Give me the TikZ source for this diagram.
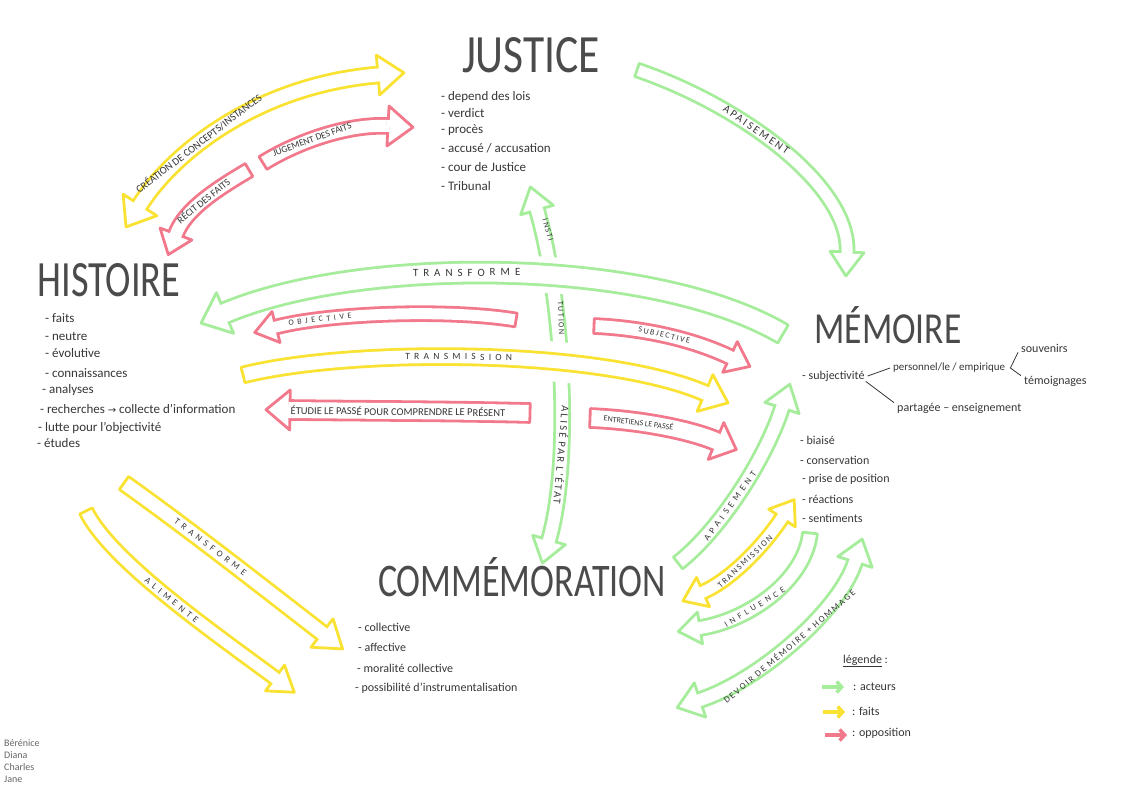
\documentclass[tikz,border=0pt]{standalone}
\usepackage{fontspec}
\usepackage{graphicx}
\setmainfont{Carlito}
\newfontfamily\symf{DejaVu Sans}
\newfontfamily\labA{Carlito}
\newfontfamily\labS{Carlito}[LetterSpace=20]
\newfontfamily\labW{Carlito}[LetterSpace=45]
\usetikzlibrary{calc,arrows.meta}
\definecolor{gA}{RGB}{165,236,155}
\definecolor{yA}{RGB}{250,226,50}
\definecolor{rA}{RGB}{242,120,140}
\definecolor{ink}{RGB}{55,55,55}
\definecolor{ttl}{RGB}{75,75,75}
\tikzset{
  body/.style={anchor=west, inner sep=0pt, text=ink, font=\fontsize{12}{14}\selectfont},
  bodyL/.style={anchor=west, inner sep=0pt, text=ink, font=\fontsize{13}{15}\selectfont},
  ttlnode/.style={inner sep=0pt, text=ttl},
  labN/.style={inner sep=0pt, text=ink, font=\labA\fontsize{#1}{#1}\selectfont},
  labS/.style={inner sep=0pt, text=ink, font=\labS\fontsize{#1}{#1}\selectfont},
  labW/.style={inner sep=0pt, text=ink, font=\labW\fontsize{#1}{#1}\selectfont},
  treeline/.style={draw=ink, line width=0.8pt},
}
% #1 colour, #2 inner gap, #3 head half width, #4 head length, #5 start, #6 ctrl1, #7 ctrl2, #8 end, #9 number of heads
\newcommand{\blockarrow}[9]{%
  \pgfmathsetmacro{\bhin}{#2/2}%
  \pgfmathsetmacro{\bhout}{#2/2+1.4}%
  \draw[#1, line width=2.8pt, double=white, double distance=#2pt]
     (#5) .. controls (#6) and (#7) .. (#8);
  \draw[#1, line width=2.8pt, fill=white, line join=round]
     ($(#8)!#3pt!90:(#7)$) -- ($(#8)!-#4pt!(#7)$) -- ($(#8)!#3pt!-90:(#7)$) -- cycle;
  \draw[white, line width=3.6pt]
     ($(#8)!\bhin pt!90:(#7)$) -- ($(#8)!\bhin pt!-90:(#7)$);
  \ifnum#9=2
    \draw[#1, line width=2.8pt, fill=white, line join=round]
       ($(#5)!#3pt!90:(#6)$) -- ($(#5)!-#4pt!(#6)$) -- ($(#5)!#3pt!-90:(#6)$) -- cycle;
    \draw[white, line width=3.6pt]
       ($(#5)!\bhin pt!90:(#6)$) -- ($(#5)!\bhin pt!-90:(#6)$);
  \else
    \draw[#1, line width=2.8pt, line cap=round]
       ($(#5)!\bhout pt!90:(#6)$) -- ($(#5)!\bhout pt!-90:(#6)$);
  \fi
}
\begin{document}
\begin{tikzpicture}[x=1pt, y=-1pt]
\useasboundingbox (0,0) rectangle (1140,800);
\fill[white] (0,0) rectangle (1140,800);

% ---------- arrow coordinates ----------
\coordinate (a1s) at (140,205); \coordinate (a1c) at (175,150); \coordinate (a1d) at (260,85);  \coordinate (a1e) at (378,75);
\coordinate (a2s) at (249,170); \coordinate (a2c) at (215,190); \coordinate (a2d) at (185,210); \coordinate (a2e) at (176,234);
\coordinate (a3s) at (263,163); \coordinate (a3c) at (300,140); \coordinate (a3d) at (350,124); \coordinate (a3e) at (388,126);
\coordinate (a4s) at (637,70);  \coordinate (a4c) at (740,105); \coordinate (a4d) at (850,185); \coordinate (a4e) at (847,252);
\coordinate (a5s) at (537,210); \coordinate (a5c) at (563,300); \coordinate (a5d) at (572,460); \coordinate (a5e) at (549,540);
\coordinate (a6s) at (783,334); \coordinate (a6c) at (650,256); \coordinate (a6d) at (360,256); \coordinate (a6e) at (225,313);
\coordinate (a7s) at (516,320); \coordinate (a7c) at (450,309); \coordinate (a7d) at (330,313); \coordinate (a7e) at (276,327);
\coordinate (a8s) at (594,326); \coordinate (a8c) at (640,328); \coordinate (a8d) at (690,338); \coordinate (a8e) at (730,357);
\coordinate (a9s) at (243,375); \coordinate (a9c) at (350,348); \coordinate (a9d) at (600,348); \coordinate (a9e) at (705,393);
\coordinate (b1s) at (530,413); \coordinate (b1c) at (450,411); \coordinate (b1d) at (370,411); \coordinate (b1e) at (290,410);
\coordinate (b2s) at (590,418); \coordinate (b2c) at (640,420); \coordinate (b2d) at (690,430); \coordinate (b2e) at (716,441);
\coordinate (b3s) at (678,563); \coordinate (b3c) at (720,530); \coordinate (b3d) at (765,460); \coordinate (b3e) at (782,408);
\coordinate (b4s) at (703,592); \coordinate (b4c) at (730,580); \coordinate (b4d) at (762,548); \coordinate (b4e) at (782,518);
\coordinate (b5s) at (810,533); \coordinate (b5c) at (805,580); \coordinate (b5d) at (750,620); \coordinate (b5e) at (700,628);
\coordinate (b6s) at (700,700); \coordinate (b6c) at (760,680); \coordinate (b6d) at (840,610); \coordinate (b6e) at (855,562);
\coordinate (b7s) at (124,483); \coordinate (b7c) at (190,530); \coordinate (b7d) at (260,585); \coordinate (b7e) at (322,633);
\coordinate (b8s) at (86,511);  \coordinate (b8c) at (110,560); \coordinate (b8d) at (210,630); \coordinate (b8e) at (275,678);

% ---------- arrows ----------
\blockarrow{yA}{13}{20}{26}{a1s}{a1c}{a1d}{a1e}{2}
\path (a1s) .. controls (a1c) and (a1d) .. (a1e) node[labN=10.5, pos=.37, sloped] {CRÉATION DE CONCEPTS/INSTANCES};

\blockarrow{rA}{12}{17}{22}{a2s}{a2c}{a2d}{a2e}{1}
\path (a2s) .. controls (a2c) and (a2d) .. (a2e) node[labN=10, pos=.5, sloped] {RÉCIT DES FAITS};
\blockarrow{rA}{12}{20}{25}{a3s}{a3c}{a3d}{a3e}{1}
\path (a3s) .. controls (a3c) and (a3d) .. (a3e) node[labN=9.5, pos=.4, sloped] {JUGEMENT DES FAITS};

\blockarrow{gA}{11}{17}{24}{a4s}{a4c}{a4d}{a4e}{1}
\path (a4s) .. controls (a4c) and (a4d) .. (a4e) node[labS=11, pos=.4, sloped] {APAISEMENT};

% vertical arrow (passes under the horizontal ones)
\blockarrow{gA}{12}{17}{24}{a5s}{a5c}{a5d}{a5e}{2}

% big green arc with halo
\draw[white, line width=36pt] (a6s) .. controls (a6c) and (a6d) .. (a6e);
\blockarrow{gA}{18}{22}{26}{a6s}{a6c}{a6d}{a6e}{1}
\path (a6s) .. controls (a6c) and (a6d) .. (a6e) node[labW=11, pos=.56, sloped] {TRANSFORME};

% yellow transmission with halo
\draw[white, line width=40pt] (a9s) .. controls (a9c) and (a9d) .. (a9e);
\blockarrow{yA}{13}{20}{25}{a9s}{a9c}{a9d}{a9e}{1}
\path (a9s) .. controls (a9c) and (a9d) .. (a9e) node[labW=9.5, pos=.47, sloped] {TRANSMISSION};

\node[labS=8, rotate=-74] (vl1) at (548,230) {INSTI};
\node[labS=8, rotate=-88] (vl2) at (561,318) {TUTION};
\node[labS=10.5, rotate=-95] (vl3) at (562,455) {ALISÉ PAR L'ÉTAT};

\blockarrow{rA}{11}{16}{22}{a7s}{a7c}{a7d}{a7e}{1}
\path (a7s) .. controls (a7c) and (a7d) .. (a7e) node[labW=8, pos=.78, sloped] {OBJECTIVE};
\blockarrow{rA}{12}{17}{22}{a8s}{a8c}{a8d}{a8e}{1}
\path (a8s) .. controls (a8c) and (a8d) .. (a8e) node[labS=8, pos=.5, sloped] {SUBJECTIVE};
\blockarrow{rA}{16}{20}{24}{b1s}{b1c}{b1d}{b1e}{1}
\path (b1s) .. controls (b1c) and (b1d) .. (b1e) node[labN=10.5, pos=.55, sloped] {ÉTUDIE LE PASSÉ POUR COMPRENDRE LE PRÉSENT};
\blockarrow{rA}{16}{20}{22}{b2s}{b2c}{b2d}{b2e}{1}
\path (b2s) .. controls (b2c) and (b2d) .. (b2e) node[labN=8, pos=.33, sloped] {ENTRETIENS LE PASSÉ};

\blockarrow{gA}{12}{18}{25}{b3s}{b3c}{b3d}{b3e}{1}
\path (b3s) .. controls (b3c) and (b3d) .. (b3e) node[labW=9, pos=.42, sloped] {APAISEMENT};
\blockarrow{yA}{11}{16}{22}{b4s}{b4c}{b4d}{b4e}{2}
\path (b4s) .. controls (b4c) and (b4d) .. (b4e) node[labS=8.5, pos=.5, sloped] {TRANSMISSION};
\blockarrow{gA}{12}{16}{22}{b5s}{b5c}{b5d}{b5e}{1}
\path (b5s) .. controls (b5c) and (b5d) .. (b5e) node[labW=8.5, pos=.63, sloped] {INFLUENCE};
\blockarrow{gA}{12}{18}{24}{b6s}{b6c}{b6d}{b6e}{2}
\path (b6s) .. controls (b6c) and (b6d) .. (b6e) node[labS=9, pos=.47, sloped] {DEVOIR DE MÉMOIRE + HOMMAGE};

\blockarrow{yA}{13}{18}{26}{b7s}{b7c}{b7d}{b7e}{1}
\path (b7s) .. controls (b7c) and (b7d) .. (b7e) node[labW=9, pos=.43, sloped] {TRANSFORME};
\blockarrow{yA}{11}{16}{24}{b8s}{b8c}{b8d}{b8e}{1}
\path (b8s) .. controls (b8c) and (b8d) .. (b8e) node[labW=9, pos=.53, sloped] {ALIMENTE};

% ---------- titles ----------
\node[ttlnode] (justice) at (531,55) {\resizebox{138pt}{35pt}{\fontsize{50}{50}\selectfont JUSTICE}};
\node[ttlnode] (histoire) at (109,280) {\resizebox{143pt}{33pt}{\fontsize{50}{50}\selectfont HISTOIRE}};
\node[ttlnode] (memoire) at (888,325) {\resizebox{147pt}{37pt}{\fontsize{50}{50}\selectfont MÉMOIRE}};
\node[ttlnode] (commem) at (522,577) {\resizebox{288pt}{39pt}{\fontsize{50}{50}\selectfont COMMÉMORATION}};

% ---------- justice list ----------
\node[bodyL] (j1) at (441,97) {- depend des lois};
\node[bodyL] (j2) at (441,113) {- verdict};
\node[bodyL] (j3) at (441,130) {- procès};
\node[bodyL] (j4) at (441,148) {- accusé / accusation};
\node[bodyL] (j5) at (441,167) {- cour de Justice};
\node[bodyL] (j6) at (441,186) {- Tribunal};

% ---------- histoire list ----------
\node[bodyL] (h1) at (45,318) {- faits};
\node[bodyL] (h2) at (45,336) {- neutre};
\node[bodyL] (h3) at (45,353) {- évolutive};
\node[bodyL] (h4) at (45,373) {- connaissances};
\node[bodyL] (h5) at (42,390) {- analyses};
\node[bodyL] (h6) at (40,409) {- recherches {\symf\fontsize{10}{10}\selectfont →} collecte d'information};
\node[bodyL] (h7) at (38,428) {- lutte pour l'objectivité};
\node[bodyL] (h8) at (37,443) {- études};

% ---------- memoire ----------
\node[body] (m1) at (802,376) {- subjectivité};
\node[body, font=\fontsize{11}{13}\selectfont] (m2) at (893,368) {personnel/le / empirique};
\node[body] (m3) at (1021,348) {souvenirs};
\node[body] (m4) at (1024,381) {témoignages};
\node[body] (m5) at (897,408) {partagée – enseignement};
\node[body] (m6) at (800,440) {- biaisé};
\node[body] (m7) at (800,460) {- conservation};
\node[body] (m8) at (802,479) {- prise de position};
\node[body] (m9) at (802,499) {- réactions};
\node[body] (m10) at (802,518) {- sentiments};
\draw[treeline] ([xshift=3pt]m1.east) -- ([xshift=-3pt]m2.west);
\draw[treeline] ([xshift=1pt]m1.south east) -- ([xshift=-3pt]m5.north west);
\coordinate (fork) at ([xshift=5pt]m2.east);
\draw[treeline] ([xshift=-3pt]m3.south west) -- (fork) -- ([xshift=-3pt]m4.north west);

% ---------- commemoration list ----------
\node[body] (c1) at (358,627) {- collective};
\node[body] (c2) at (358,647) {- affective};
\node[body] (c3) at (357,668) {- moralité collective};
\node[body] (c4) at (355,688) {- possibilité d'instrumentalisation};

% ---------- legend ----------
\node[body] (lgt) at (843,661) {\underline{légende} :};
\coordinate (lg1a) at (822,687); \coordinate (lg1b) at (844,687);
\coordinate (lg2a) at (823,712); \coordinate (lg2b) at (845,712);
\coordinate (lg3a) at (825,735); \coordinate (lg3b) at (847,735);
\draw[gA, line width=3.5pt, -{Straight Barb[length=5pt,width=11pt]}] (lg1a) -- (lg1b);
\draw[yA, line width=3.5pt, -{Straight Barb[length=5pt,width=11pt]}] (lg2a) -- (lg2b);
\draw[rA, line width=3.5pt, -{Straight Barb[length=5pt,width=11pt]}] (lg3a) -- (lg3b);
\node[body] (lg1) at (853,687) {: acteurs};
\node[body] (lg2) at (852,711) {: faits};
\node[body] (lg3) at (852,733) {: opposition};

% ---------- authors ----------
\node[anchor=north west, inner sep=0pt, align=left, text=black!60, font=\fontsize{10}{12}\selectfont] (names) at (4,739) {Bérénice\\Diana\\Charles\\Jane};
\end{tikzpicture}
\end{document}
